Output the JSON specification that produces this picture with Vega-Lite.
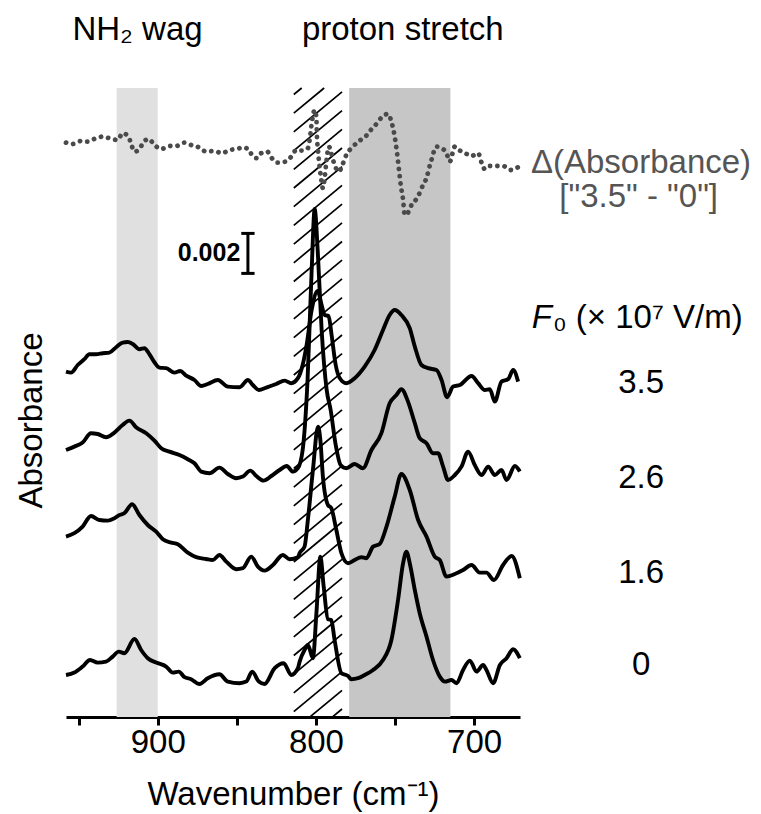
{
  "$schema": "https://vega.github.io/schema/vega-lite/v6.json",
  "width": 454,
  "height": 717,
  "autosize": {"type": "none"},
  "padding": {"left": 66, "top": 0, "right": 241, "bottom": 97},
  "background": "white",
  "config": {"view": {"stroke": null}, "font": "Liberation Sans", "text": {"font": "Liberation Sans"}},
  "datasets": {
    "bands": [
      {"kind": "NH2 wag", "from": 926, "to": 900},
      {"kind": "proton stretch", "from": 779, "to": 715}
    ],
    "hatch": [
      {"wn_a": 814, "wn_b": 783.5, "a_a": -1.6, "a_b": 0.4},
      {"wn_a": 814, "wn_b": 783.5, "a_a": -0.665, "a_b": 1.335},
      {"wn_a": 814, "wn_b": 783.5, "a_a": 0.27, "a_b": 2.27},
      {"wn_a": 814, "wn_b": 783.5, "a_a": 1.205, "a_b": 3.205},
      {"wn_a": 814, "wn_b": 783.5, "a_a": 2.14, "a_b": 4.14},
      {"wn_a": 814, "wn_b": 783.5, "a_a": 3.075, "a_b": 5.075},
      {"wn_a": 814, "wn_b": 783.5, "a_a": 4.01, "a_b": 6.01},
      {"wn_a": 814, "wn_b": 783.5, "a_a": 4.945, "a_b": 6.945},
      {"wn_a": 814, "wn_b": 783.5, "a_a": 5.88, "a_b": 7.88},
      {"wn_a": 814, "wn_b": 783.5, "a_a": 6.815, "a_b": 8.815},
      {"wn_a": 814, "wn_b": 783.5, "a_a": 7.75, "a_b": 9.75},
      {"wn_a": 814, "wn_b": 783.5, "a_a": 8.685, "a_b": 10.685},
      {"wn_a": 814, "wn_b": 783.5, "a_a": 9.62, "a_b": 11.62},
      {"wn_a": 814, "wn_b": 783.5, "a_a": 10.555, "a_b": 12.555},
      {"wn_a": 814, "wn_b": 783.5, "a_a": 11.49, "a_b": 13.49},
      {"wn_a": 814, "wn_b": 783.5, "a_a": 12.425, "a_b": 14.425},
      {"wn_a": 814, "wn_b": 783.5, "a_a": 13.36, "a_b": 15.36},
      {"wn_a": 814, "wn_b": 783.5, "a_a": 14.295, "a_b": 16.295},
      {"wn_a": 814, "wn_b": 783.5, "a_a": 15.23, "a_b": 17.23},
      {"wn_a": 814, "wn_b": 783.5, "a_a": 16.165, "a_b": 18.165},
      {"wn_a": 814, "wn_b": 783.5, "a_a": 17.1, "a_b": 19.1},
      {"wn_a": 814, "wn_b": 783.5, "a_a": 18.035, "a_b": 20.035},
      {"wn_a": 814, "wn_b": 783.5, "a_a": 18.97, "a_b": 20.97},
      {"wn_a": 814, "wn_b": 783.5, "a_a": 19.905, "a_b": 21.905},
      {"wn_a": 814, "wn_b": 783.5, "a_a": 20.84, "a_b": 22.84},
      {"wn_a": 814, "wn_b": 783.5, "a_a": 21.775, "a_b": 23.775},
      {"wn_a": 814, "wn_b": 783.5, "a_a": 22.71, "a_b": 24.71},
      {"wn_a": 814, "wn_b": 783.5, "a_a": 23.645, "a_b": 25.645},
      {"wn_a": 814, "wn_b": 783.5, "a_a": 24.58, "a_b": 26.58},
      {"wn_a": 814, "wn_b": 783.5, "a_a": 25.515, "a_b": 27.515},
      {"wn_a": 814, "wn_b": 783.5, "a_a": 26.45, "a_b": 28.45},
      {"wn_a": 814, "wn_b": 783.5, "a_a": 27.385, "a_b": 29.385},
      {"wn_a": 814, "wn_b": 783.5, "a_a": 28.32, "a_b": 30.32},
      {"wn_a": 814, "wn_b": 783.5, "a_a": 29.255, "a_b": 31.255},
      {"wn_a": 814, "wn_b": 794.8, "a_a": 30.19, "a_b": 31.45},
      {"wn_a": 814, "wn_b": 809.0, "a_a": 31.125, "a_b": 31.45}
    ],
    "spectra": [
      {"s": "3.5", "wn": 958.0, "a": 17.27}, {"s": "3.5", "wn": 954.8, "a": 17.22}, {"s": "3.5", "wn": 950.6, "a": 17.6},
      {"s": "3.5", "wn": 946.4, "a": 17.89}, {"s": "3.5", "wn": 943.2, "a": 18.14}, {"s": "3.5", "wn": 939.0, "a": 18.14},
      {"s": "3.5", "wn": 934.8, "a": 18.19}, {"s": "3.5", "wn": 930.6, "a": 18.22}, {"s": "3.5", "wn": 926.3, "a": 18.49},
      {"s": "3.5", "wn": 922.2, "a": 18.72}, {"s": "3.5", "wn": 919.0, "a": 18.75}, {"s": "3.5", "wn": 915.8, "a": 18.65},
      {"s": "3.5", "wn": 911.6, "a": 18.39}, {"s": "3.5", "wn": 908.4, "a": 18.44}, {"s": "3.5", "wn": 905.3, "a": 18.14},
      {"s": "3.5", "wn": 902.1, "a": 17.74}, {"s": "3.5", "wn": 898.9, "a": 17.47}, {"s": "3.5", "wn": 894.7, "a": 17.44},
      {"s": "3.5", "wn": 889.4, "a": 17.22}, {"s": "3.5", "wn": 885.8, "a": 17.3}, {"s": "3.5", "wn": 882.0, "a": 17.07},
      {"s": "3.5", "wn": 876.8, "a": 16.85}, {"s": "3.5", "wn": 872.5, "a": 16.55}, {"s": "3.5", "wn": 868.4, "a": 16.65},
      {"s": "3.5", "wn": 862.0, "a": 16.85}, {"s": "3.5", "wn": 855.7, "a": 16.52}, {"s": "3.5", "wn": 848.3, "a": 16.49},
      {"s": "3.5", "wn": 843.0, "a": 16.85}, {"s": "3.5", "wn": 839.9, "a": 16.6}, {"s": "3.5", "wn": 836.1, "a": 16.35},
      {"s": "3.5", "wn": 831.4, "a": 16.47}, {"s": "3.5", "wn": 825.1, "a": 16.65}, {"s": "3.5", "wn": 819.8, "a": 16.82},
      {"s": "3.5", "wn": 815.6, "a": 16.69}, {"s": "3.5", "wn": 811.4, "a": 16.94}, {"s": "3.5", "wn": 808.4, "a": 17.6},
      {"s": "3.5", "wn": 805.9, "a": 18.6}, {"s": "3.5", "wn": 802.7, "a": 20.35}, {"s": "3.5", "wn": 798.9, "a": 21.3},
      {"s": "3.5", "wn": 796.4, "a": 20.6}, {"s": "3.5", "wn": 794.5, "a": 20.1}, {"s": "3.5", "wn": 792.0, "a": 20.05},
      {"s": "3.5", "wn": 790.1, "a": 19.1}, {"s": "3.5", "wn": 787.5, "a": 17.6}, {"s": "3.5", "wn": 785.0, "a": 16.95},
      {"s": "3.5", "wn": 780.8, "a": 16.69}, {"s": "3.5", "wn": 775.5, "a": 16.94}, {"s": "3.5", "wn": 769.2, "a": 17.52},
      {"s": "3.5", "wn": 762.9, "a": 18.35}, {"s": "3.5", "wn": 757.6, "a": 19.35}, {"s": "3.5", "wn": 753.4, "a": 20.1},
      {"s": "3.5", "wn": 750.2, "a": 20.35}, {"s": "3.5", "wn": 746.0, "a": 20.1}, {"s": "3.5", "wn": 740.7, "a": 19.44},
      {"s": "3.5", "wn": 737.5, "a": 18.52}, {"s": "3.5", "wn": 733.3, "a": 17.6}, {"s": "3.5", "wn": 729.1, "a": 17.44},
      {"s": "3.5", "wn": 723.8, "a": 17.35}, {"s": "3.5", "wn": 720.6, "a": 16.85}, {"s": "3.5", "wn": 717.1, "a": 15.99},
      {"s": "3.5", "wn": 713.3, "a": 16.52}, {"s": "3.5", "wn": 709.0, "a": 16.6}, {"s": "3.5", "wn": 701.6, "a": 17.05},
      {"s": "3.5", "wn": 697.5, "a": 16.69}, {"s": "3.5", "wn": 693.2, "a": 16.35}, {"s": "3.5", "wn": 690.1, "a": 16.39},
      {"s": "3.5", "wn": 686.9, "a": 15.77}, {"s": "3.5", "wn": 682.7, "a": 16.77}, {"s": "3.5", "wn": 678.5, "a": 16.89},
      {"s": "3.5", "wn": 675.3, "a": 17.35}, {"s": "3.5", "wn": 672.2, "a": 16.77},

      {"s": "2.6", "wn": 958.0, "a": 13.35}, {"s": "2.6", "wn": 952.7, "a": 13.52}, {"s": "2.6", "wn": 947.5, "a": 13.72},
      {"s": "2.6", "wn": 942.2, "a": 14.19}, {"s": "2.6", "wn": 938.0, "a": 14.15}, {"s": "2.6", "wn": 932.7, "a": 13.99},
      {"s": "2.6", "wn": 927.4, "a": 14.22}, {"s": "2.6", "wn": 922.2, "a": 14.6}, {"s": "2.6", "wn": 917.9, "a": 14.82},
      {"s": "2.6", "wn": 913.7, "a": 14.49}, {"s": "2.6", "wn": 907.3, "a": 14.19}, {"s": "2.6", "wn": 902.1, "a": 13.82},
      {"s": "2.6", "wn": 897.8, "a": 13.44}, {"s": "2.6", "wn": 892.6, "a": 13.27}, {"s": "2.6", "wn": 886.3, "a": 13.1},
      {"s": "2.6", "wn": 881.0, "a": 12.89}, {"s": "2.6", "wn": 876.8, "a": 12.69}, {"s": "2.6", "wn": 872.5, "a": 12.27},
      {"s": "2.6", "wn": 867.3, "a": 12.19}, {"s": "2.6", "wn": 861.0, "a": 12.47}, {"s": "2.6", "wn": 855.7, "a": 12.15},
      {"s": "2.6", "wn": 850.4, "a": 11.94}, {"s": "2.6", "wn": 846.2, "a": 12.02}, {"s": "2.6", "wn": 841.5, "a": 12.32},
      {"s": "2.6", "wn": 837.7, "a": 12.05}, {"s": "2.6", "wn": 833.1, "a": 11.82}, {"s": "2.6", "wn": 828.2, "a": 12.05},
      {"s": "2.6", "wn": 823.0, "a": 12.35}, {"s": "2.6", "wn": 818.4, "a": 12.55}, {"s": "2.6", "wn": 814.6, "a": 12.27},
      {"s": "2.6", "wn": 811.4, "a": 12.44}, {"s": "2.6", "wn": 808.4, "a": 13.35}, {"s": "2.6", "wn": 805.3, "a": 16.85},
      {"s": "2.6", "wn": 802.7, "a": 22.35}, {"s": "2.6", "wn": 800.8, "a": 25.4}, {"s": "2.6", "wn": 798.9, "a": 23.35},
      {"s": "2.6", "wn": 796.4, "a": 19.35}, {"s": "2.6", "wn": 793.2, "a": 16.35}, {"s": "2.6", "wn": 790.7, "a": 15.35},
      {"s": "2.6", "wn": 787.5, "a": 13.6}, {"s": "2.6", "wn": 784.4, "a": 12.6}, {"s": "2.6", "wn": 780.8, "a": 12.44},
      {"s": "2.6", "wn": 775.5, "a": 12.65}, {"s": "2.6", "wn": 770.3, "a": 12.44}, {"s": "2.6", "wn": 764.9, "a": 13.35},
      {"s": "2.6", "wn": 758.6, "a": 14.19}, {"s": "2.6", "wn": 753.4, "a": 15.69}, {"s": "2.6", "wn": 749.1, "a": 16.1},
      {"s": "2.6", "wn": 746.0, "a": 16.39}, {"s": "2.6", "wn": 741.8, "a": 15.77}, {"s": "2.6", "wn": 737.5, "a": 14.69},
      {"s": "2.6", "wn": 734.4, "a": 13.94}, {"s": "2.6", "wn": 730.1, "a": 13.69}, {"s": "2.6", "wn": 726.0, "a": 13.19},
      {"s": "2.6", "wn": 722.8, "a": 13.19}, {"s": "2.6", "wn": 719.6, "a": 12.52}, {"s": "2.6", "wn": 716.5, "a": 11.85},
      {"s": "2.6", "wn": 712.2, "a": 12.1}, {"s": "2.6", "wn": 708.0, "a": 12.52}, {"s": "2.6", "wn": 703.8, "a": 13.27},
      {"s": "2.6", "wn": 699.6, "a": 12.6}, {"s": "2.6", "wn": 695.3, "a": 12.1}, {"s": "2.6", "wn": 691.1, "a": 12.52},
      {"s": "2.6", "wn": 686.9, "a": 12.1}, {"s": "2.6", "wn": 682.7, "a": 12.35}, {"s": "2.6", "wn": 679.5, "a": 11.85},
      {"s": "2.6", "wn": 674.2, "a": 12.55}, {"s": "2.6", "wn": 671.1, "a": 12.27},

      {"s": "1.6", "wn": 958.0, "a": 9.02}, {"s": "1.6", "wn": 952.7, "a": 9.19}, {"s": "1.6", "wn": 947.5, "a": 9.52},
      {"s": "1.6", "wn": 942.2, "a": 10.05}, {"s": "1.6", "wn": 936.9, "a": 9.85}, {"s": "1.6", "wn": 931.6, "a": 9.82},
      {"s": "1.6", "wn": 927.4, "a": 9.94}, {"s": "1.6", "wn": 924.2, "a": 10.1}, {"s": "1.6", "wn": 921.1, "a": 10.19},
      {"s": "1.6", "wn": 916.2, "a": 10.64}, {"s": "1.6", "wn": 911.6, "a": 10.1}, {"s": "1.6", "wn": 906.3, "a": 9.6},
      {"s": "1.6", "wn": 901.0, "a": 9.27}, {"s": "1.6", "wn": 896.8, "a": 8.89}, {"s": "1.6", "wn": 891.5, "a": 8.72},
      {"s": "1.6", "wn": 887.3, "a": 8.64}, {"s": "1.6", "wn": 881.0, "a": 8.22}, {"s": "1.6", "wn": 875.7, "a": 7.99},
      {"s": "1.6", "wn": 869.4, "a": 7.9}, {"s": "1.6", "wn": 865.2, "a": 7.85}, {"s": "1.6", "wn": 861.0, "a": 8.1},
      {"s": "1.6", "wn": 856.7, "a": 7.77}, {"s": "1.6", "wn": 850.4, "a": 7.39}, {"s": "1.6", "wn": 846.2, "a": 7.44},
      {"s": "1.6", "wn": 840.9, "a": 8.02}, {"s": "1.6", "wn": 836.7, "a": 7.52}, {"s": "1.6", "wn": 832.5, "a": 7.32},
      {"s": "1.6", "wn": 827.2, "a": 7.6}, {"s": "1.6", "wn": 820.9, "a": 8.1}, {"s": "1.6", "wn": 816.6, "a": 7.89},
      {"s": "1.6", "wn": 811.4, "a": 7.99}, {"s": "1.6", "wn": 810.3, "a": 8.2}, {"s": "1.6", "wn": 807.2, "a": 8.52},
      {"s": "1.6", "wn": 805.1, "a": 9.85}, {"s": "1.6", "wn": 801.9, "a": 12.35}, {"s": "1.6", "wn": 798.7, "a": 14.52},
      {"s": "1.6", "wn": 797.2, "a": 13.85}, {"s": "1.6", "wn": 795.6, "a": 12.02}, {"s": "1.6", "wn": 792.4, "a": 10.6},
      {"s": "1.6", "wn": 790.3, "a": 10.44}, {"s": "1.6", "wn": 787.1, "a": 9.35}, {"s": "1.6", "wn": 783.9, "a": 8.19},
      {"s": "1.6", "wn": 779.7, "a": 7.69}, {"s": "1.6", "wn": 775.5, "a": 7.85}, {"s": "1.6", "wn": 771.3, "a": 7.99},
      {"s": "1.6", "wn": 768.1, "a": 7.94}, {"s": "1.6", "wn": 763.9, "a": 8.52}, {"s": "1.6", "wn": 759.7, "a": 8.65},
      {"s": "1.6", "wn": 755.4, "a": 9.52}, {"s": "1.6", "wn": 750.2, "a": 11.02}, {"s": "1.6", "wn": 746.0, "a": 12.15},
      {"s": "1.6", "wn": 740.7, "a": 11.35}, {"s": "1.6", "wn": 735.4, "a": 9.85}, {"s": "1.6", "wn": 730.1, "a": 9.02},
      {"s": "1.6", "wn": 724.9, "a": 8.02}, {"s": "1.6", "wn": 721.7, "a": 7.85}, {"s": "1.6", "wn": 717.5, "a": 7.02},
      {"s": "1.6", "wn": 712.2, "a": 7.15}, {"s": "1.6", "wn": 707.0, "a": 7.35}, {"s": "1.6", "wn": 701.6, "a": 7.6},
      {"s": "1.6", "wn": 696.4, "a": 7.22}, {"s": "1.6", "wn": 692.2, "a": 7.22}, {"s": "1.6", "wn": 687.5, "a": 6.85},
      {"s": "1.6", "wn": 681.7, "a": 7.6}, {"s": "1.6", "wn": 676.3, "a": 8.05}, {"s": "1.6", "wn": 671.1, "a": 6.94},

      {"s": "0", "wn": 958.0, "a": 2.1}, {"s": "0", "wn": 952.7, "a": 2.22}, {"s": "0", "wn": 947.5, "a": 2.52},
      {"s": "0", "wn": 942.8, "a": 2.85}, {"s": "0", "wn": 938.0, "a": 2.72}, {"s": "0", "wn": 932.7, "a": 2.77},
      {"s": "0", "wn": 928.5, "a": 3.02}, {"s": "0", "wn": 924.7, "a": 3.27}, {"s": "0", "wn": 921.1, "a": 3.19},
      {"s": "0", "wn": 914.7, "a": 3.9}, {"s": "0", "wn": 910.5, "a": 3.35}, {"s": "0", "wn": 906.3, "a": 2.94},
      {"s": "0", "wn": 901.0, "a": 2.72}, {"s": "0", "wn": 894.7, "a": 2.52}, {"s": "0", "wn": 890.5, "a": 2.22},
      {"s": "0", "wn": 886.7, "a": 2.27}, {"s": "0", "wn": 883.1, "a": 1.99}, {"s": "0", "wn": 878.9, "a": 1.89},
      {"s": "0", "wn": 873.6, "a": 1.65}, {"s": "0", "wn": 868.4, "a": 1.94}, {"s": "0", "wn": 861.0, "a": 2.14},
      {"s": "0", "wn": 855.7, "a": 1.77}, {"s": "0", "wn": 848.3, "a": 1.69}, {"s": "0", "wn": 844.1, "a": 1.77},
      {"s": "0", "wn": 840.3, "a": 2.27}, {"s": "0", "wn": 836.1, "a": 1.77}, {"s": "0", "wn": 832.5, "a": 1.65},
      {"s": "0", "wn": 826.1, "a": 2.44}, {"s": "0", "wn": 820.4, "a": 2.69}, {"s": "0", "wn": 815.6, "a": 2.1},
      {"s": "0", "wn": 811.4, "a": 2.44}, {"s": "0", "wn": 810.3, "a": 2.77}, {"s": "0", "wn": 807.2, "a": 3.35},
      {"s": "0", "wn": 805.1, "a": 3.6}, {"s": "0", "wn": 801.9, "a": 2.94}, {"s": "0", "wn": 799.7, "a": 5.19},
      {"s": "0", "wn": 797.2, "a": 8.02}, {"s": "0", "wn": 795.1, "a": 6.52}, {"s": "0", "wn": 792.4, "a": 4.89},
      {"s": "0", "wn": 790.3, "a": 4.85}, {"s": "0", "wn": 788.2, "a": 3.85}, {"s": "0", "wn": 783.9, "a": 2.19},
      {"s": "0", "wn": 779.7, "a": 2.05}, {"s": "0", "wn": 777.6, "a": 1.89}, {"s": "0", "wn": 773.4, "a": 1.94},
      {"s": "0", "wn": 769.2, "a": 2.1}, {"s": "0", "wn": 763.9, "a": 2.35}, {"s": "0", "wn": 757.6, "a": 2.85},
      {"s": "0", "wn": 752.3, "a": 3.85}, {"s": "0", "wn": 748.1, "a": 5.85}, {"s": "0", "wn": 744.9, "a": 7.69},
      {"s": "0", "wn": 742.8, "a": 8.27}, {"s": "0", "wn": 740.7, "a": 7.69}, {"s": "0", "wn": 737.5, "a": 6.35},
      {"s": "0", "wn": 734.4, "a": 5.19}, {"s": "0", "wn": 730.1, "a": 4.02}, {"s": "0", "wn": 726.0, "a": 2.85},
      {"s": "0", "wn": 721.7, "a": 2.02}, {"s": "0", "wn": 718.5, "a": 1.77}, {"s": "0", "wn": 714.3, "a": 1.85},
      {"s": "0", "wn": 711.1, "a": 1.69}, {"s": "0", "wn": 707.0, "a": 2.35}, {"s": "0", "wn": 702.7, "a": 2.82},
      {"s": "0", "wn": 698.5, "a": 2.27}, {"s": "0", "wn": 694.3, "a": 2.6}, {"s": "0", "wn": 692.2, "a": 2.35},
      {"s": "0", "wn": 688.0, "a": 1.69}, {"s": "0", "wn": 683.7, "a": 2.6}, {"s": "0", "wn": 679.5, "a": 2.94},
      {"s": "0", "wn": 675.3, "a": 3.39}, {"s": "0", "wn": 671.1, "a": 2.94}
    ],
    "diff": [
      {"wn": 958.0, "a": 28.72}, {"wn": 953.8, "a": 28.65}, {"wn": 948.5, "a": 28.8}, {"wn": 944.3, "a": 28.77},
      {"wn": 940.1, "a": 28.9}, {"wn": 934.8, "a": 29.02}, {"wn": 930.6, "a": 28.94}, {"wn": 925.3, "a": 28.85},
      {"wn": 922.2, "a": 29.19}, {"wn": 918.5, "a": 29.02}, {"wn": 916.8, "a": 28.64}, {"wn": 914.7, "a": 28.27},
      {"wn": 911.6, "a": 28.39}, {"wn": 909.1, "a": 28.74}, {"wn": 905.7, "a": 28.9}, {"wn": 902.1, "a": 28.6},
      {"wn": 897.8, "a": 28.4}, {"wn": 892.6, "a": 28.55}, {"wn": 888.4, "a": 28.55}, {"wn": 883.1, "a": 28.72},
      {"wn": 878.9, "a": 28.6}, {"wn": 874.1, "a": 28.49}, {"wn": 869.4, "a": 28.27}, {"wn": 864.1, "a": 28.3},
      {"wn": 859.5, "a": 28.19}, {"wn": 854.6, "a": 28.35}, {"wn": 850.0, "a": 28.4}, {"wn": 846.2, "a": 28.47},
      {"wn": 842.6, "a": 28.4}, {"wn": 840.3, "a": 28.07}, {"wn": 837.3, "a": 27.94}, {"wn": 834.6, "a": 28.19},
      {"wn": 830.8, "a": 28.27}, {"wn": 828.2, "a": 27.97}, {"wn": 824.1, "a": 27.72}, {"wn": 819.2, "a": 27.77},
      {"wn": 815.6, "a": 28.02}, {"wn": 812.4, "a": 28.35}, {"wn": 809.2, "a": 28.32}, {"wn": 805.1, "a": 28.44},
      {"wn": 804.0, "a": 28.85}, {"wn": 802.5, "a": 29.77}, {"wn": 800.8, "a": 30.35}, {"wn": 799.7, "a": 29.94},
      {"wn": 799.4, "a": 29.1}, {"wn": 798.7, "a": 28.35}, {"wn": 797.7, "a": 27.52}, {"wn": 796.6, "a": 26.85},
      {"wn": 795.6, "a": 26.44}, {"wn": 794.5, "a": 26.94}, {"wn": 793.4, "a": 27.77}, {"wn": 791.8, "a": 28.52},
      {"wn": 790.3, "a": 28.19}, {"wn": 788.2, "a": 27.6}, {"wn": 785.4, "a": 27.27}, {"wn": 783.3, "a": 27.6},
      {"wn": 780.8, "a": 28.1}, {"wn": 776.6, "a": 28.52}, {"wn": 772.3, "a": 28.82}, {"wn": 768.1, "a": 29.07},
      {"wn": 764.9, "a": 29.39}, {"wn": 761.8, "a": 29.65}, {"wn": 758.0, "a": 30.02}, {"wn": 754.4, "a": 30.15},
      {"wn": 752.3, "a": 29.77}, {"wn": 750.2, "a": 29.02}, {"wn": 748.7, "a": 28.19}, {"wn": 747.5, "a": 27.35},
      {"wn": 746.4, "a": 26.6}, {"wn": 744.9, "a": 25.85}, {"wn": 743.9, "a": 25.1}, {"wn": 741.8, "a": 25.22},
      {"wn": 739.6, "a": 25.6}, {"wn": 736.1, "a": 25.94}, {"wn": 732.3, "a": 26.6}, {"wn": 729.8, "a": 27.02},
      {"wn": 728.5, "a": 27.44}, {"wn": 727.0, "a": 27.85}, {"wn": 723.8, "a": 28.52}, {"wn": 720.6, "a": 28.44},
      {"wn": 717.5, "a": 28.2}, {"wn": 715.4, "a": 27.77}, {"wn": 712.2, "a": 28.52}, {"wn": 709.0, "a": 28.32},
      {"wn": 705.9, "a": 28.2}, {"wn": 701.6, "a": 28.05}, {"wn": 697.5, "a": 28.2}, {"wn": 695.3, "a": 27.72},
      {"wn": 693.2, "a": 27.39}, {"wn": 690.1, "a": 27.55}, {"wn": 685.8, "a": 27.55}, {"wn": 681.7, "a": 27.55},
      {"wn": 677.0, "a": 27.35}, {"wn": 672.2, "a": 27.49}
    ],
    "scalebar": [{"wn": 843.0, "lo": 22.18, "hi": 24.18}],
    "scalecaps": [
      {"left": 847.2, "right": 838.8, "a": 22.18},
      {"left": 847.2, "right": 838.8, "a": 24.18}
    ],
    "headers": [
      {"t": "NH₂ wag", "wn": 912.8, "a": 34.35},
      {"t": "proton stretch", "wn": 745.1, "a": 34.35}
    ],
    "difflabels": [
      {"t": "Δ(Absorbance)", "wn": 594.5, "a": 27.7},
      {"t": "[\"3.5\" - \"0\"]", "wn": 596.0, "a": 26.0}
    ],
    "fieldlabels": [
      {"t": "3.5", "wn": 594.4, "a": 16.7},
      {"t": "2.6", "wn": 594.4, "a": 11.95},
      {"t": "1.6", "wn": 594.4, "a": 7.2},
      {"t": "0", "wn": 594.4, "a": 2.6}
    ],
    "fieldtitleF": [{"t": "F", "wn": 650.8, "a": 19.95}],
    "fieldtitleRest": [{"t": "₀ (× 10⁷ V/m)", "wn": 650.2, "a": 19.95}],
    "barlabel": [{"t": "0.002", "wn": 847.8, "a": 23.2}]
  },
  "layer": [
    {
      "data": {"name": "bands"},
      "mark": {"type": "rect"},
      "encoding": {
        "x": {
          "field": "from", "type": "quantitative",
          "scale": {"domain": [958, 671], "nice": false, "zero": false},
          "title": "Wavenumber (cm⁻¹)",
          "axis": {
            "values": [950, 900, 850, 800, 750, 700],
            "labelExpr": "datum.value % 100 === 0 ? datum.label : ''",
            "grid": false,
            "domainColor": "black", "domainWidth": 3,
            "tickColor": "black", "tickWidth": 3, "tickSize": 8,
            "labelFontSize": 33, "labelColor": "black", "labelPadding": 1,
            "labelFont": "Liberation Sans", "labelFlush": false,
            "titleFontSize": 33, "titleFontWeight": "normal", "titleColor": "black",
            "titleFont": "Liberation Sans", "titlePadding": 19
          }
        },
        "x2": {"field": "to"},
        "y": {
          "datum": 31.45, "type": "quantitative",
          "scale": {"domain": [0, 35.85], "nice": false, "zero": false},
          "title": "Absorbance",
          "axis": {
            "domain": false, "ticks": false, "labels": false, "grid": false,
            "titleFontSize": 33, "titleFontWeight": "normal", "titleColor": "black",
            "titleFont": "Liberation Sans", "titlePadding": 18, "titleY": 420
          }
        },
        "y2": {"datum": 0},
        "color": {
          "field": "kind", "type": "nominal",
          "scale": {"domain": ["NH2 wag", "proton stretch"], "range": ["#e0e0e0", "#c6c6c6"]},
          "legend": null
        }
      }
    },
    {
      "data": {"name": "hatch"},
      "mark": {"type": "rule", "color": "black", "strokeWidth": 1.7, "clip": true},
      "encoding": {
        "x": {"field": "wn_a", "type": "quantitative", "title": "Wavenumber (cm⁻¹)"},
        "x2": {"field": "wn_b"},
        "y": {"field": "a_a", "type": "quantitative", "title": "Absorbance"},
        "y2": {"field": "a_b"}
      }
    },
    {
      "data": {"name": "spectra"},
      "mark": {"type": "line", "color": "black", "strokeWidth": 3.9, "interpolate": "monotone", "strokeJoin": "round"},
      "encoding": {
        "x": {"field": "wn", "type": "quantitative", "title": "Wavenumber (cm⁻¹)"},
        "y": {"field": "a", "type": "quantitative", "title": "Absorbance"},
        "detail": {"field": "s", "type": "nominal"}
      }
    },
    {
      "data": {"name": "diff"},
      "mark": {"type": "line", "color": "#4a4a4a", "strokeWidth": 4.8, "strokeCap": "round", "strokeDash": [0.1, 7.2], "interpolate": "monotone"},
      "encoding": {
        "x": {"field": "wn", "type": "quantitative", "title": "Wavenumber (cm⁻¹)"},
        "y": {"field": "a", "type": "quantitative", "title": "Absorbance"}
      }
    },
    {
      "data": {"name": "scalebar"},
      "mark": {"type": "rule", "color": "black", "strokeWidth": 3},
      "encoding": {
        "x": {"field": "wn", "type": "quantitative", "title": "Wavenumber (cm⁻¹)"},
        "y": {"field": "lo", "type": "quantitative", "title": "Absorbance"},
        "y2": {"field": "hi"}
      }
    },
    {
      "data": {"name": "scalecaps"},
      "mark": {"type": "rule", "color": "black", "strokeWidth": 3},
      "encoding": {
        "x": {"field": "left", "type": "quantitative", "title": "Wavenumber (cm⁻¹)"},
        "x2": {"field": "right"},
        "y": {"field": "a", "type": "quantitative", "title": "Absorbance"}
      }
    },
    {
      "data": {"name": "barlabel"},
      "mark": {"type": "text", "fontSize": 25, "fontWeight": "bold", "align": "right", "baseline": "middle", "color": "black", "font": "Liberation Sans"},
      "encoding": {
        "x": {"field": "wn", "type": "quantitative", "title": "Wavenumber (cm⁻¹)"},
        "y": {"field": "a", "type": "quantitative", "title": "Absorbance"},
        "text": {"field": "t"}
      }
    },
    {
      "data": {"name": "headers"},
      "mark": {"type": "text", "fontSize": 33, "align": "center", "baseline": "middle", "color": "black", "font": "Liberation Sans"},
      "encoding": {
        "x": {"field": "wn", "type": "quantitative", "title": "Wavenumber (cm⁻¹)"},
        "y": {"field": "a", "type": "quantitative", "title": "Absorbance"},
        "text": {"field": "t"}
      }
    },
    {
      "data": {"name": "difflabels"},
      "mark": {"type": "text", "fontSize": 33, "align": "center", "baseline": "middle", "color": "#555555", "font": "Liberation Sans"},
      "encoding": {
        "x": {"field": "wn", "type": "quantitative", "title": "Wavenumber (cm⁻¹)"},
        "y": {"field": "a", "type": "quantitative", "title": "Absorbance"},
        "text": {"field": "t"}
      }
    },
    {
      "data": {"name": "fieldlabels"},
      "mark": {"type": "text", "fontSize": 33, "align": "center", "baseline": "middle", "color": "black", "font": "Liberation Sans"},
      "encoding": {
        "x": {"field": "wn", "type": "quantitative", "title": "Wavenumber (cm⁻¹)"},
        "y": {"field": "a", "type": "quantitative", "title": "Absorbance"},
        "text": {"field": "t"}
      }
    },
    {
      "data": {"name": "fieldtitleF"},
      "mark": {"type": "text", "fontSize": 33, "fontStyle": "italic", "align": "right", "baseline": "middle", "color": "black", "font": "Liberation Sans"},
      "encoding": {
        "x": {"field": "wn", "type": "quantitative", "title": "Wavenumber (cm⁻¹)"},
        "y": {"field": "a", "type": "quantitative", "title": "Absorbance"},
        "text": {"field": "t"}
      }
    },
    {
      "data": {"name": "fieldtitleRest"},
      "mark": {"type": "text", "fontSize": 33, "align": "left", "baseline": "middle", "color": "black", "font": "Liberation Sans"},
      "encoding": {
        "x": {"field": "wn", "type": "quantitative", "title": "Wavenumber (cm⁻¹)"},
        "y": {"field": "a", "type": "quantitative", "title": "Absorbance"},
        "text": {"field": "t"}
      }
    }
  ]
}
